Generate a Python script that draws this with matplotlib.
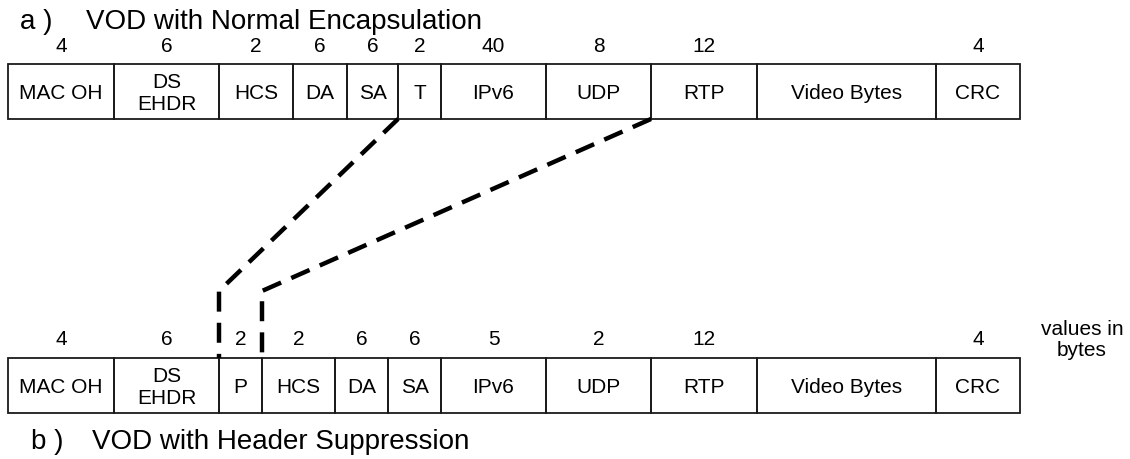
import numpy as np
from matplotlib import pyplot as plt
from matplotlib.patches import Rectangle

plt.rcParams['font.family'] = ['Liberation Sans', 'DejaVu Sans']

# a) normal encapsulation
top_labels = ["MAC OH", "DS\nEHDR", "HCS", "DA", "SA", "T", "IPv6", "UDP", "RTP", "Video Bytes", "CRC"]
top_bytes = ["4", "6", "2", "6", "6", "2", "40", "8", "12", "", "4"]
top_widths = [106, 105, 74, 54, 51, 43, 105, 105, 106, 179, 84]

# b) header suppression
bot_labels = ["MAC OH", "DS\nEHDR", "P", "HCS", "DA", "SA", "IPv6", "UDP", "RTP", "Video Bytes", "CRC"]
bot_bytes = ["4", "6", "2", "2", "6", "6", "5", "2", "12", "", "4"]
bot_widths = [106, 105, 43, 73, 53, 53, 105, 105, 106, 179, 84]

W, H = 1130, 460
fig = plt.figure(figsize=(W / 100, H / 100), dpi=100)
ax = fig.add_axes([0, 0, 1, 1])
ax.set_xlim(0, W)
ax.set_ylim(H, 0)
ax.axis('off')

X0 = 8
CELL_H = 55


def draw_row(labels, nums, widths, y_top, y_num):
    edges = X0 + np.concatenate([[0], np.cumsum(widths)])
    for i, lab in enumerate(labels):
        x = edges[i]
        w = widths[i]
        ax.add_patch(Rectangle((x, y_top), w, CELL_H, fill=False,
                               edgecolor='#1a1a1a', linewidth=1.3))
        ax.text(x + w / 2, y_top + CELL_H / 2 + 1, lab, ha='center', va='center',
                fontsize=15, linespacing=1.15)
        if nums[i]:
            ax.text(x + w / 2, y_num, nums[i], ha='center', va='center', fontsize=15)
    return edges


top_edges = draw_row(top_labels, top_bytes, top_widths, 65, 47)
bot_edges = draw_row(bot_labels, bot_bytes, bot_widths, 359, 340)

# dashed links: suppressed fields (T .. UDP) collapse into P
y_top_bottom = 65 + CELL_H
y_bot_top = 359
bend = 292
ax.plot([top_edges[5], bot_edges[2], bot_edges[2]], [y_top_bottom, bend, y_bot_top],
        color='black', linewidth=3.2, linestyle=(0, (4.5, 2.5)), solid_capstyle='butt')
ax.plot([top_edges[8], bot_edges[3], bot_edges[3]], [y_top_bottom, bend, y_bot_top],
        color='black', linewidth=3.2, linestyle=(0, (4.5, 2.5)), solid_capstyle='butt')

ax.text(20, 22, "a )", ha='left', va='center', fontsize=20)
ax.text(86, 22, "VOD with Normal Encapsulation", ha='left', va='center', fontsize=20)
ax.text(31, 442, "b )", ha='left', va='center', fontsize=20)
ax.text(92, 442, "VOD with Header Suppression", ha='left', va='center', fontsize=20)

ax.text(1082, 340, "values in\nbytes", ha='center', va='center', fontsize=15, linespacing=1.15)

plt.savefig("out.png", dpi=100)
